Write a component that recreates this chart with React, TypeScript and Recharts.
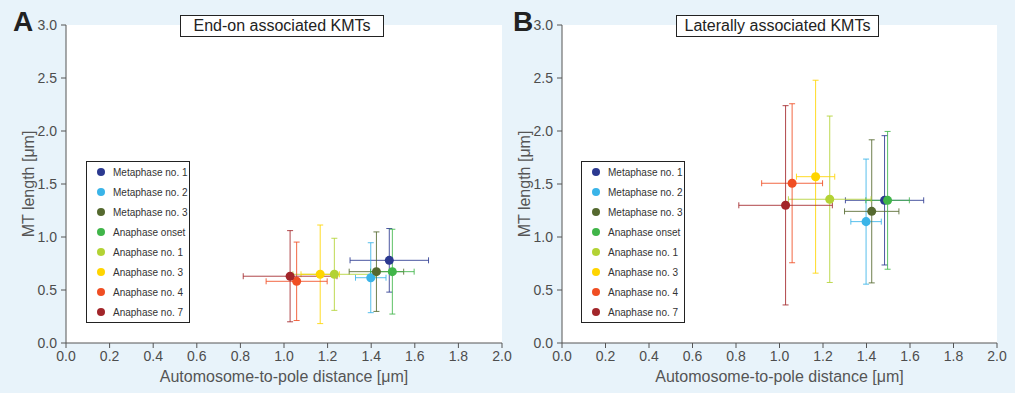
import React from 'react'
import { ScatterChart, Scatter, XAxis, YAxis, ZAxis, CartesianGrid, ErrorBar } from 'recharts'

// Stages (legend order) and their colours
const stages = [
  'Metaphase no. 1',
  'Metaphase no. 2',
  'Metaphase no. 3',
  'Anaphase onset',
  'Anaphase no. 1',
  'Anaphase no. 3',
  'Anaphase no. 4',
  'Anaphase no. 7',
]
const colors = ['#2b3990', '#3ab4e8', '#55692f', '#40b549', '#b3d234', '#ffd500', '#f04e23', '#a2262a']

// Automosome-to-pole distance (same for both panels)
const poleDist = [1.483, 1.398, 1.424, 1.497, 1.231, 1.166, 1.058, 1.028]
const poleDistErr = [0.18, 0.07, 0.125, 0.1, 0.19, 0.088, 0.14, 0.215]

// MT length, end-on associated KMTs
const endOnLength = [0.78, 0.616, 0.673, 0.673, 0.648, 0.648, 0.582, 0.63]
const endOnErr = [0.3, 0.33, 0.375, 0.4, 0.34, 0.465, 0.37, 0.43]

// MT length, laterally associated KMTs
const lateralLength = [1.346, 1.145, 1.242, 1.346, 1.356, 1.569, 1.507, 1.299]
const lateralErr = [0.61, 0.59, 0.675, 0.65, 0.785, 0.91, 0.75, 0.94]

const xTicks = [0, 0.2, 0.4, 0.6, 0.8, 1.0, 1.2, 1.4, 1.6, 1.8, 2.0]
const yTicks = [0, 0.5, 1.0, 1.5, 2.0, 2.5, 3.0]

const FONT = '"Liberation Sans", Arial, Helvetica, sans-serif'
const AXIS = '#555'
const BG = '#e8f3fa'

interface PanelProps {
  lengths: number[]
  errs: number[]
  width: number
  margin: { top: number; right: number; bottom: number; left: number }
}

function Panel({ lengths, errs, width, margin }: PanelProps) {
  const tick = { fill: '#4d4d4d', fontSize: 14, fontFamily: FONT }
  return (
    <ScatterChart width={width} height={393} margin={margin}>
      <CartesianGrid horizontal={false} vertical={false} fill="#fff" fillOpacity={1} stroke="none" />
      <XAxis
        type="number"
        dataKey="x"
        domain={[0, 2]}
        ticks={xTicks}
        tickFormatter={(v: number) => v.toFixed(1)}
        interval={0}
        height={50}
        tickSize={5}
        tickMargin={3}
        stroke={AXIS}
        tick={tick}
        allowDataOverflow
        label={{
          value: 'Automosome-to-pole distance [μm]',
          position: 'insideBottom',
          offset: 11,
          fill: '#555',
          fontSize: 16,
          fontFamily: FONT,
        }}
      />
      <YAxis
        type="number"
        dataKey="y"
        domain={[0, 3]}
        ticks={yTicks}
        tickFormatter={(v: number) => v.toFixed(1)}
        interval={0}
        width={40}
        tickSize={5}
        tickMargin={4}
        stroke={AXIS}
        tick={tick}
        allowDataOverflow
        label={{
          value: 'MT length [μm]',
          angle: -90,
          position: 'center',
          dx: -18,
          fill: '#555',
          fontSize: 16,
          fontFamily: FONT,
        }}
      />
      <ZAxis range={[55, 55]} />
      {stages.map((name, i) => (
        <Scatter
          key={name}
          name={name}
          data={[{ x: poleDist[i], y: lengths[i], ex: poleDistErr[i], ey: errs[i] }]}
          fill={colors[i]}
          isAnimationActive={false}
        >
          <ErrorBar dataKey="ex" direction="x" width={3} stroke={colors[i]} strokeOpacity={0.85} strokeWidth={1} />
          <ErrorBar dataKey="ey" direction="y" width={3} stroke={colors[i]} strokeOpacity={0.85} strokeWidth={1} />
        </Scatter>
      ))}
    </ScatterChart>
  )
}

function StageLegend({ left }: { left: number }) {
  return (
    <div
      style={{
        position: 'absolute',
        left,
        top: 161,
        width: 102,
        height: 160,
        border: '1px solid #222',
        background: '#fff',
        fontFamily: FONT,
        fontSize: 10,
        color: '#333',
      }}
    >
      {stages.map((name, i) => (
        <div key={name} style={{ height: 20, display: 'flex', alignItems: 'center' }}>
          <span
            style={{
              display: 'inline-block',
              width: 8,
              height: 8,
              borderRadius: 4,
              background: colors[i],
              marginLeft: 10,
              marginRight: 8,
            }}
          />
          <span style={{ whiteSpace: 'nowrap' }}>{name}</span>
        </div>
      ))}
    </div>
  )
}

function TitleBox({ left, width, text }: { left: number; width: number; text: string }) {
  return (
    <div
      style={{
        position: 'absolute',
        left,
        top: 15,
        width,
        height: 20,
        border: '1px solid #222',
        background: '#fff',
        fontFamily: FONT,
        fontSize: 16,
        lineHeight: '20px',
        textAlign: 'center',
        color: '#222',
      }}
    >
      {text}
    </div>
  )
}

function PanelLetter({ left, text }: { left: number; text: string }) {
  return (
    <div
      style={{
        position: 'absolute',
        left,
        top: 8,
        fontFamily: FONT,
        fontWeight: 'bold',
        fontSize: 28,
        lineHeight: '28px',
        color: '#222',
      }}
    >
      {text}
    </div>
  )
}

export default function App() {
  return (
    <div style={{ position: 'absolute', left: 0, top: 0, width: 1015, height: 393, background: BG, overflow: 'hidden' }}>
      <div style={{ position: 'absolute', left: 0, top: 0 }}>
        <Panel lengths={endOnLength} errs={endOnErr} width={522} margin={{ top: 25, right: 20, bottom: 0, left: 26 }} />
      </div>
      <div style={{ position: 'absolute', left: 507, top: 0 }}>
        <Panel lengths={lateralLength} errs={lateralErr} width={508} margin={{ top: 25, right: 18, bottom: 0, left: 15 }} />
      </div>
      <StageLegend left={86} />
      <StageLegend left={581} />
      <TitleBox left={180} width={202} text="End-on associated KMTs" />
      <TitleBox left={676} width={201} text="Laterally associated KMTs" />
      <PanelLetter left={13} text="A" />
      <PanelLetter left={513} text="B" />
    </div>
  )
}
